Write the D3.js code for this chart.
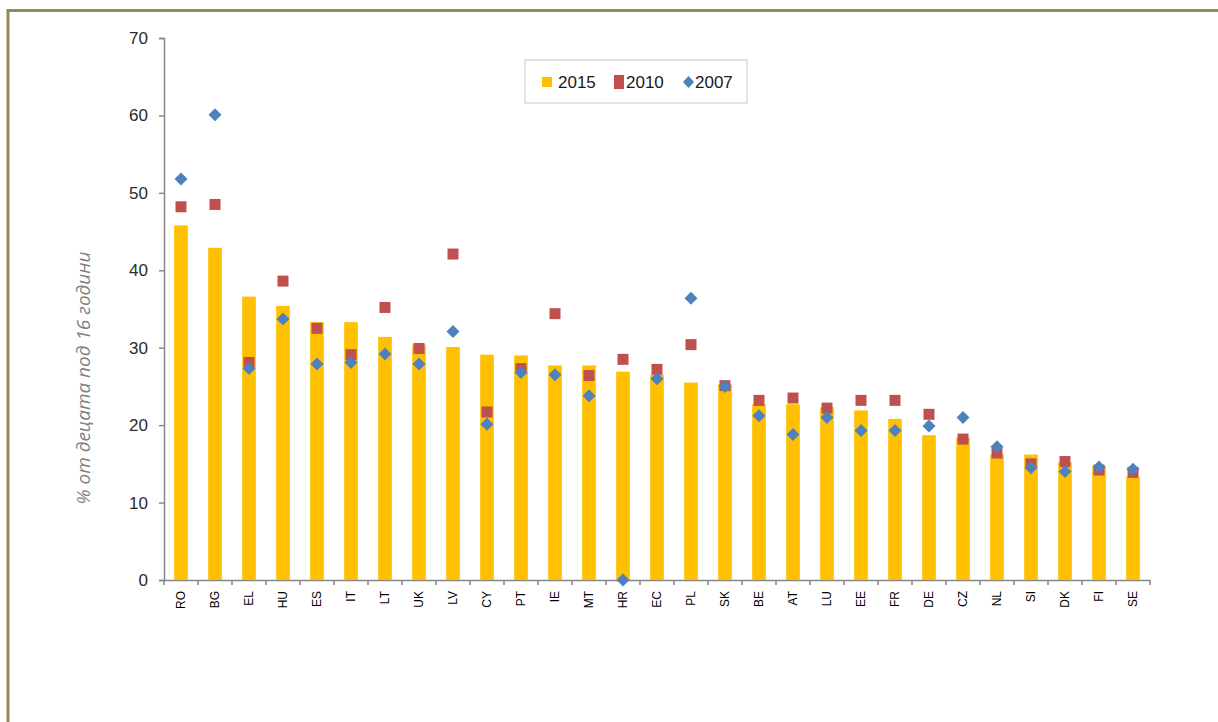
<!DOCTYPE html>
<html>
<head>
<meta charset="utf-8">
<script src="https://cdn.jsdelivr.net/npm/d3@7"></script>
<style>
  body { margin: 0; background: #fff; }
  svg { display: block; font-family: "Liberation Sans", Arial, sans-serif; }
</style>
</head>
<body>
<div id="chart"></div>
<script>
// country codes and the three series (% of children under 16)
const countries = ["RO","BG","EL","HU","ES","IT","LT","UK","LV","CY","PT","IE","MT","HR","EC",
  "PL","SK","BE","AT","LU","EE","FR","DE","CZ","NL","SI","DK","FI","SE"]
const v2015 = [45.8,42.9,36.6,35.4,33.3,33.3,31.4,30.4,30.1,29.1,29.0,27.7,27.7,26.9,26.5,
  25.5,25.3,22.7,22.7,22.3,21.9,20.8,18.7,18.4,16.2,16.2,15.2,14.7,13.3]
const v2010 = [48.2,48.5,28.1,38.6,32.5,29.1,35.2,29.9,42.1,21.7,27.3,34.4,26.4,28.5,27.2,
  30.4,25.1,23.2,23.5,22.2,23.2,23.2,21.4,18.2,16.4,15.0,15.3,14.2,13.9]
const v2007 = [51.8,60.1,27.3,33.7,27.9,28.1,29.2,27.9,32.1,20.1,26.8,26.5,23.8,0,26.0,
  36.4,25.0,21.2,18.8,21.0,19.3,19.3,19.9,21.0,17.2,14.5,14.0,14.6,14.3]
const yTicks = [0,10,20,30,40,50,60,70]
const legendLabels = ["2015","2010","2007"]
const yTitle = "% от децата под 16 години"

const W = 1218, H = 722
const margin = {top: 38, left: 164, right: 68, bottom: 142}
const width = W - margin.left - margin.right,
      height = H - margin.top - margin.bottom

const svg = d3.select("#chart").append("svg")
    .attr("width", W).attr("height", H)

// frame of the original picture
svg.append("path")
    .attr("d", `M8,${H} L8,10.5 L${W},10.5`)
    .attr("fill", "none")
    .attr("stroke", "#948a54")
    .attr("stroke-width", 3)

const g = svg.append("g")
    .attr("transform", `translate(${margin.left}, ${margin.top})`)

const x = d3.scaleBand().domain(countries).range([0, width]).padding(0)
const y = d3.scaleLinear().domain([0, 70]).range([height, 0])

// y axis
const yAxis = g.append("g")
    .call(d3.axisLeft(y).tickValues(yTicks).tickSize(5).tickPadding(11))
yAxis.select(".domain").attr("stroke", "#868686").attr("stroke-width", 1.5)
yAxis.selectAll(".tick line").attr("stroke", "#868686").attr("stroke-width", 1.5)
yAxis.selectAll("text").attr("font-size", 17).attr("fill", "#2b2b2b")
    .attr("font-family", "Liberation Sans, Arial, sans-serif")

// x axis, ticks at band edges
const xAxis = g.append("g")
    .attr("transform", `translate(0, ${height})`)
    .call(d3.axisBottom(x).tickSize(0).tickPadding(0))
xAxis.select(".domain").attr("stroke", "#868686").attr("stroke-width", 1.5)
xAxis.selectAll(".tick text")
    .attr("font-size", 12)
    .attr("fill", "#000")
    .attr("font-family", "Liberation Sans, Arial, sans-serif")
    .style("text-anchor", "end")
    .attr("dx", "-11px")
    .attr("dy", "0.35em")
    .attr("y", 0)
    .attr("transform", "rotate(-90)")
xAxis.selectAll(".edge")
    .data(d3.range(countries.length + 1))
    .enter().append("line")
    .attr("x1", i => i * x.step()).attr("x2", i => i * x.step())
    .attr("y1", 0).attr("y2", 5)
    .attr("stroke", "#868686").attr("stroke-width", 1.5)

// y title
g.append("text")
    .attr("transform", `translate(${83 - margin.left}, ${378 - margin.top}) rotate(-90)`)
    .attr("text-anchor", "middle")
    .attr("dy", "0.35em")
    .attr("font-size", 19)
    .attr("font-family", "Open Sans, Liberation Sans, sans-serif")
    .attr("font-style", "italic")
    .attr("fill", "#7f7f7f")
    .text(yTitle)

const barW = x.bandwidth() * 0.4
const cx = d => x(d) + x.bandwidth() / 2

// 2015 bars
g.selectAll(".bar")
    .data(countries)
    .enter().append("rect")
    .attr("class", "bar")
    .attr("x", d => cx(d) - barW / 2)
    .attr("y", (d, i) => y(v2015[i]))
    .attr("width", barW)
    .attr("height", (d, i) => height - y(v2015[i]))
    .attr("fill", "#ffc000")

// 2010 squares
const sq = 11
g.selectAll(".sq")
    .data(countries)
    .enter().append("rect")
    .attr("class", "sq")
    .attr("x", d => cx(d) - sq / 2)
    .attr("y", (d, i) => y(v2010[i]) - sq / 2)
    .attr("width", sq).attr("height", sq)
    .attr("fill", "#c0504d")

// 2007 diamonds
const dm = 6.5
const diamond = `M0,${-dm} L${dm},0 L0,${dm} L${-dm},0 Z`
g.selectAll(".dm")
    .data(countries)
    .enter().append("path")
    .attr("class", "dm")
    .attr("d", diamond)
    .attr("transform", (d, i) => `translate(${cx(d)}, ${y(v2007[i])})`)
    .attr("fill", "#4f81bd")

// legend
const leg = svg.append("g").attr("transform", "translate(525, 60)")
leg.append("rect")
    .attr("width", 222).attr("height", 43)
    .attr("fill", "#fff").attr("stroke", "#d9d9d9").attr("stroke-width", 1.5)
const legX = [17, 89, 158]
legendLabels.forEach((lab, i) => {
  const item = leg.append("g").attr("transform", `translate(${legX[i]}, 22)`)
  if (i === 0) item.append("rect").attr("x", 0).attr("y", -5).attr("width", 10).attr("height", 10).attr("fill", "#ffc000")
  if (i === 1) item.append("rect").attr("x", 0).attr("y", -7).attr("width", 10).attr("height", 14).attr("fill", "#c0504d")
  if (i === 2) item.append("path").attr("d", "M5.5,-6 L11,0 L5.5,6 L0,0 Z").attr("fill", "#4f81bd")
  item.append("text")
      .attr("x", i === 0 ? 16 : 12)
      .attr("dy", "0.36em")
      .attr("font-size", 17)
      .attr("fill", "#1a1a1a")
      .text(lab)
})
</script>
</body>
</html>
